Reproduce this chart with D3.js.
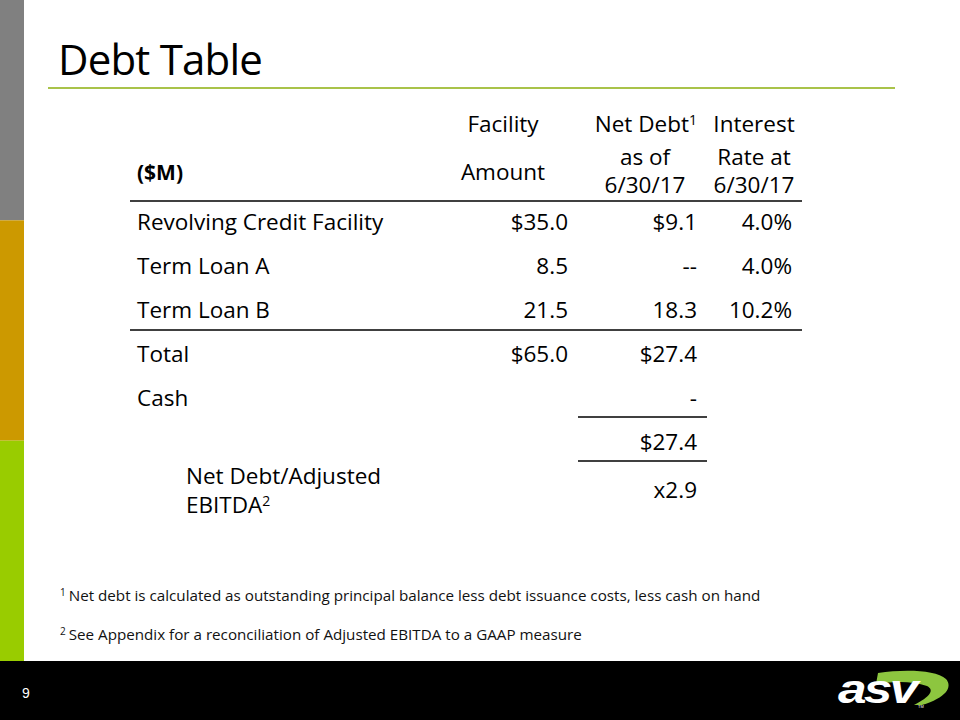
<!DOCTYPE html>
<html><head><meta charset="utf-8">
<script src="https://cdn.jsdelivr.net/npm/d3@7"></script>
<style>body{margin:0;background:#fff}svg{display:block}</style>
</head><body>
<svg id="c" width="960" height="720"></svg>
<script>
// ---- data ----
const title = "Debt Table";
const rowLabels = ["Revolving Credit Facility", "Term Loan A", "Term Loan B", "Total", "Cash", "", "Net Debt/Adjusted EBITDA"];
const facilityAmount = ["$35.0", "8.5", "21.5", "$65.0", "", "", ""];
const netDebt = ["$9.1", "--", "18.3", "$27.4", "-", "$27.4", "x2.9"];
const interestRate = ["4.0%", "4.0%", "10.2%", "", "", "", ""];
const footnotes = [
  {sup: "1", text: "Net debt is calculated as outstanding principal balance less debt issuance costs, less cash on hand"},
  {sup: "2", text: "See Appendix for a reconciliation of Adjusted EBITDA to a GAAP measure"}
];
const sideBands = ["#808080", "#CC9900", "#99CC00"];
const pageNumber = "9";

const FONT = "'Open Sans', 'Noto Sans', sans-serif";
const svg = d3.select("#c");

// side color bands
const yBand = d3.scaleBand().domain(d3.range(sideBands.length)).range([0, 661]);
svg.selectAll("rect.band").data(sideBands).join("rect")
  .attr("x", 0).attr("y", (d,i)=>yBand(i)).attr("width", 24).attr("height", yBand.bandwidth()).attr("fill", d=>d);

// title
svg.append("text").attr("x", 58).attr("y", 75).attr("font-family", FONT).attr("font-size", 42)
  .attr("font-weight", 500).attr("fill", "#000").attr("letter-spacing", -0.8).text(title);
svg.append("line").attr("x1", 48).attr("x2", 895).attr("y1", 88).attr("y2", 88)
  .attr("stroke", "#A9C34A").attr("stroke-width", 2);

// table
const fs = 22.5;
const colX = {label: 137, fac: 568, net: 697, rate: 792};
const g = svg.append("g").attr("font-family", FONT).attr("font-size", fs).attr("fill", "#000");

// header
const hdr = g.append("g");
function t(x, y, s, anchor="end", weight=400) {
  return hdr.append("text").attr("x", x).attr("y", y).attr("text-anchor", anchor).attr("font-weight", weight).text(s);
}
t(colX.label, 180, "($M)", "start", 700).attr("font-size", 21);
t(503, 132, "Facility", "middle");
t(503, 180, "Amount", "middle");
const nd = hdr.append("text").attr("x", 697).attr("y", 132).attr("text-anchor", "end");
nd.append("tspan").text("Net Debt");
nd.append("tspan").attr("font-size", 14).attr("dy", -7).text("1");
t(645, 165, "as of", "middle");
t(645, 193, "6/30/17", "middle");
t(754, 132, "Interest", "middle");
t(754, 165, "Rate at", "middle");
t(754, 193, "6/30/17", "middle");

// row positions via scale
const yRow = d3.scalePoint().domain(d3.range(rowLabels.length)).range([230, 494]);
const rows = g.selectAll("g.row").data(rowLabels.map((l,i)=>({l, f: facilityAmount[i], n: netDebt[i], r: interestRate[i], i})))
  .join("g").attr("class", "row");

rows.filter(d=>d.i < 6).append("text").attr("x", colX.label).attr("y", d=>yRow(d.i)).text(d=>d.l);
rows.append("text").attr("x", colX.fac).attr("y", d=>yRow(d.i)).attr("text-anchor", "end").text(d=>d.f);
rows.append("text").attr("x", colX.net).attr("y", d=>yRow(d.i) + (d.i===6?4:0)).attr("text-anchor", "end").text(d=>d.n);
rows.append("text").attr("x", colX.rate).attr("y", d=>yRow(d.i)).attr("text-anchor", "end").text(d=>d.r);

// last label, two lines (split at last space)
const lastLabel = rowLabels[6];
const cut = lastLabel.lastIndexOf(" ");
g.append("text").attr("x", 186).attr("y", 484).text(lastLabel.slice(0, cut));
const lt2 = g.append("text").attr("x", 186).attr("y", 513);
lt2.append("tspan").text(lastLabel.slice(cut + 1));
lt2.append("tspan").attr("font-size", 14).attr("dy", -7).text("2");

// rules
const rules = [
  {x1: 130, x2: 802, y: 201},
  {x1: 130, x2: 802, y: 330},
  {x1: 578, x2: 707, y: 417},
  {x1: 578, x2: 707, y: 461}
];
svg.selectAll("line.rule").data(rules).join("line").attr("class", "rule")
  .attr("x1", d=>d.x1).attr("x2", d=>d.x2).attr("y1", d=>d.y).attr("y2", d=>d.y)
  .attr("stroke", "#000").attr("stroke-width", 1.3);

// footnotes
const fn = svg.append("g").attr("font-family", FONT).attr("font-size", 15.2).attr("fill", "#111");
footnotes.forEach((f, i) => {
  const tx = fn.append("text").attr("x", 60).attr("y", 601 + i*39);
  tx.append("tspan").attr("font-size", 10).attr("dy", -5).text(f.sup);
  tx.append("tspan").attr("dy", 5).attr("dx", 3).text(f.text);
});

// bottom bar
svg.append("rect").attr("x", 0).attr("y", 661).attr("width", 960).attr("height", 59).attr("fill", "#000");
svg.append("text").attr("x", 22).attr("y", 698).attr("font-family", "Arial, 'Liberation Sans', sans-serif")
  .attr("font-size", 14).attr("fill", "#fff").text(pageNumber);

// logo
const logo = svg.append("g");
logo.append("path")
  .attr("d", "M878,673 C905,669 936,670 946,679 C953,687 946,698 922,705 L914,705 C930,697 935,690 927,686 C913,681 895,681 876,684 Z")
  .attr("fill", "#8DC63F");
logo.append("text").attr("x", 0).attr("y", 0).attr("font-family", "'Liberation Sans', Arial, sans-serif")
  .attr("font-size", 46).attr("font-weight", 700).attr("font-style", "italic").attr("fill", "#fff")
  .attr("letter-spacing", -2.5).attr("transform", "translate(838,703) scale(1.12,0.9)").text("asv");
logo.append("text").attr("x", 918).attr("y", 708).attr("font-family", "Arial, sans-serif").attr("font-size", 4)
  .attr("fill", "#fff").text("TM");
</script>
</body></html>
